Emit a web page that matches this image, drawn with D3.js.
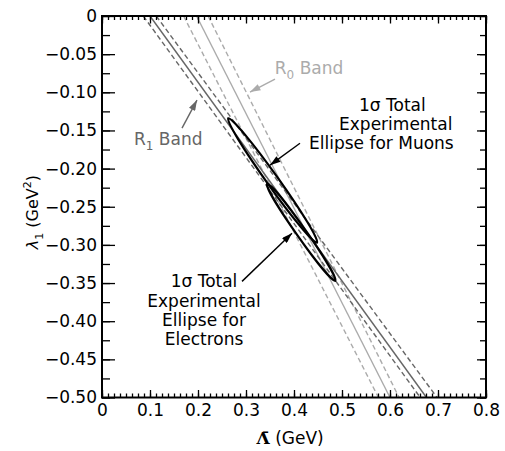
<!DOCTYPE html>
<html lang="en">
<head>
<meta charset="UTF-8">
<title>lambda1 vs Lambda-bar</title>
<script src="https://d3js.org/d3.v7.min.js"></script>
<style>
  body { margin: 0; background: #fff; }
  text { font-family: "DejaVu Sans", "Liberation Sans", Arial, sans-serif; fill: #000; }
</style>
</head>
<body>
<div id="chart"></div>
<script>
// ---- data ----
const xTicks = [0, 0.1, 0.2, 0.3, 0.4, 0.5, 0.6, 0.7, 0.8]
const yTicks = [0, -0.05, -0.10, -0.15, -0.20, -0.25, -0.30, -0.35, -0.40, -0.45, -0.50]

// band lines: Lambda-bar where each line meets lambda1 = 0 and lambda1 = -0.5
// order: lower dashed, central solid, upper dashed
const r1AtTop = [0.086, 0.100, 0.113]
const r1AtBottom = [0.663, 0.676, 0.698]
const r0AtTop = [0.170, 0.197, 0.221]
const r0AtBottom = [0.576, 0.600, 0.619]

// 1 sigma ellipses: tips of the long axis and half width (GeV on the Lambda axis)
const ellipseNames = ["muons", "electrons"]
const ellipseTipA = [[0.263, -0.134], [0.344, -0.220]]
const ellipseTipB = [[0.448, -0.297], [0.486, -0.347]]
const ellipseHalfWidth = [0.012, 0.010]

const muonLines = ["1σ Total", "Experimental", "Ellipse for Muons"]
const muonCenters = [0.605, 0.612, 0.582]
const electronLines = ["1σ Total", "Experimental", "Ellipse for", "Electrons"]

// ---- layout ----
const W = 505, H = 451
const margin = {top: 16, right: 19, bottom: 53.5, left: 102}
const w = W - margin.left - margin.right
const h = H - margin.top - margin.bottom
const dark = "#666666", light = "#ababab"
const fs = "17px"

const svg = d3.select("#chart").append("svg").attr("width", W).attr("height", H)
const g = svg.append("g").attr("transform", "translate(" + margin.left + "," + margin.top + ")")

const x = d3.scaleLinear().domain([0, 0.8]).range([0, w])
const y = d3.scaleLinear().domain([-0.5, 0]).range([h, 0])

function fmtY(d) {
  return d === 0 ? "0" : "\u2212" + Math.abs(d).toFixed(2)
}
function fmtX(d) {
  return d === 0 ? "0" : d.toFixed(1)
}

function drawAxes() {
  const xMinor = d3.range(0, 0.8001, 0.0125)
  const yMinor = d3.range(0, -0.5001, -0.025)

  const addAxis = (axis, tr, cls) => {
    const a = g.append("g").attr("class", cls).attr("transform", tr).call(axis)
    a.select(".domain").remove()
    a.selectAll("line").attr("stroke", "#000").attr("stroke-width", 1.3)
    a.selectAll("text").style("font-size", fs).attr("fill", "#000")
    return a
  }
  // bottom
  addAxis(d3.axisBottom(x).tickValues(xMinor).tickSize(-4).tickFormat(""), "translate(0," + h + ")", "xminor")
  addAxis(d3.axisBottom(x).tickValues(xTicks).tickSize(-7.5).tickPadding(6).tickFormat(fmtX), "translate(0," + h + ")", "xaxis")
  // top
  addAxis(d3.axisTop(x).tickValues(xMinor).tickSize(-4).tickFormat(""), "translate(0,0)", "xminor")
  addAxis(d3.axisTop(x).tickValues(xTicks).tickSize(-7.5).tickFormat(""), "translate(0,0)", "xaxis2")
  // left
  addAxis(d3.axisLeft(y).tickValues(yMinor).tickSize(-8).tickFormat(""), "translate(0,0)", "yminor")
  addAxis(d3.axisLeft(y).tickValues(yTicks).tickSize(-13).tickPadding(5).tickFormat(fmtY), "translate(0,0)", "yaxis")
  // right
  addAxis(d3.axisRight(y).tickValues(yMinor).tickSize(-6).tickFormat(""), "translate(" + w + ",0)", "yminor")
  addAxis(d3.axisRight(y).tickValues(yTicks).tickSize(-9).tickFormat(""), "translate(" + w + ",0)", "yaxis2")

  g.append("rect").attr("width", w).attr("height", h)
    .attr("fill", "none").attr("stroke", "#000").attr("stroke-width", 2)

  // axis titles
  const xt = svg.append("text")
    .attr("x", margin.left + x(0.392)).attr("y", 444)
    .attr("text-anchor", "middle").style("font-size", fs)
  xt.append("tspan").text("\u039B\u0304").style("font-family", "DejaVu Serif, serif").style("font-weight", "bold")
  xt.append("tspan").text(" (GeV)")

  const yt = svg.append("text")
    .attr("transform", "translate(38," + (margin.top + y(-0.257)) + ") rotate(-90)")
    .attr("text-anchor", "middle").style("font-size", "16px")
  yt.append("tspan").text("\u03BB").style("font-style", "italic")
  yt.append("tspan").text("1").attr("dy", 5).style("font-size", "11px")
  yt.append("tspan").text(" (GeV").attr("dy", -5)
  yt.append("tspan").text("2").attr("dy", -7).style("font-size", "11px")
  yt.append("tspan").text(")").attr("dy", 7)
}

function drawBand(top, bottom, color) {
  const styles = ["5,3", null, "5,3"]
  top.forEach((t, i) => {
    g.append("line")
      .attr("x1", x(t)).attr("y1", y(0))
      .attr("x2", x(bottom[i])).attr("y2", y(-0.5))
      .attr("stroke", color).attr("stroke-width", 1.4)
      .attr("stroke-dasharray", styles[i])
  })
}

function drawEllipses() {
  ellipseNames.forEach((name, i) => {
    const ax = x(ellipseTipA[i][0]), ay = y(ellipseTipA[i][1])
    const bx = x(ellipseTipB[i][0]), by = y(ellipseTipB[i][1])
    const cx = (ax + bx) / 2, cy = (ay + by) / 2
    const rx = Math.hypot(bx - ax, by - ay) / 2
    const ry = x(ellipseHalfWidth[i]) - x(0)
    const ang = Math.atan2(by - ay, bx - ax) * 180 / Math.PI
    g.append("ellipse").attr("class", "ellipse-" + name)
      .attr("cx", 0).attr("cy", 0).attr("rx", rx).attr("ry", ry)
      .attr("transform", "translate(" + cx + "," + cy + ") rotate(" + ang + ")")
      .attr("fill", "none").attr("stroke", "#000").attr("stroke-width", 2.2)
  })
}

function arrow(from, to, color, id) {
  svg.select("defs").append("marker").attr("id", id)
    .attr("viewBox", "0 0 12 8").attr("refX", 12).attr("refY", 4)
    .attr("markerWidth", 12).attr("markerHeight", 7)
    .attr("markerUnits", "userSpaceOnUse").attr("orient", "auto")
    .append("path").attr("d", "M0,0 L12,4 L0,8 Z").attr("fill", color)
  g.append("line")
    .attr("x1", x(from[0])).attr("y1", y(from[1]))
    .attr("x2", x(to[0])).attr("y2", y(to[1]))
    .attr("stroke", color).attr("stroke-width", 1.4)
    .attr("marker-end", "url(#" + id + ")")
}

function bandLabel(at, sub, color) {
  const t = g.append("text").attr("x", x(at[0])).attr("y", y(at[1]))
    .style("font-size", fs).attr("fill", color)
  t.append("tspan").text("R").attr("fill", color)
  t.append("tspan").text(sub).attr("dy", 5).style("font-size", "12px").attr("fill", color)
  t.append("tspan").text(" Band").attr("dy", -5).attr("fill", color)
}

function blockLabel(lines, centers, top) {
  const t = g.append("text").attr("text-anchor", "middle").style("font-size", fs)
  lines.forEach((s, i) => {
    t.append("tspan").attr("x", x(centers[i])).attr("y", y(top) + i * 19.2).text(s)
  })
}

function drawChart() {
  svg.append("defs")
  drawBand(r0AtTop, r0AtBottom, light)
  drawBand(r1AtTop, r1AtBottom, dark)
  drawEllipses()
  drawAxes()

  bandLabel([0.360, -0.0761], "0", light)
  arrow([0.3604, -0.0827], [0.3083, -0.0997], light, "ah0")
  bandLabel([0.0667, -0.1693], "1", dark)
  arrow([0.1667, -0.147], [0.1979, -0.1102], dark, "ah1")

  blockLabel(muonLines, muonCenters, -0.1244)
  arrow([0.4125, -0.1667], [0.350, -0.1955], "#000", "ahm")
  blockLabel(electronLines, electronLines.map(() => 0.2125), -0.3556)
  arrow([0.2917, -0.3478], [0.3958, -0.2848], "#000", "ahe")
}

drawChart()
</script>
</body>
</html>
